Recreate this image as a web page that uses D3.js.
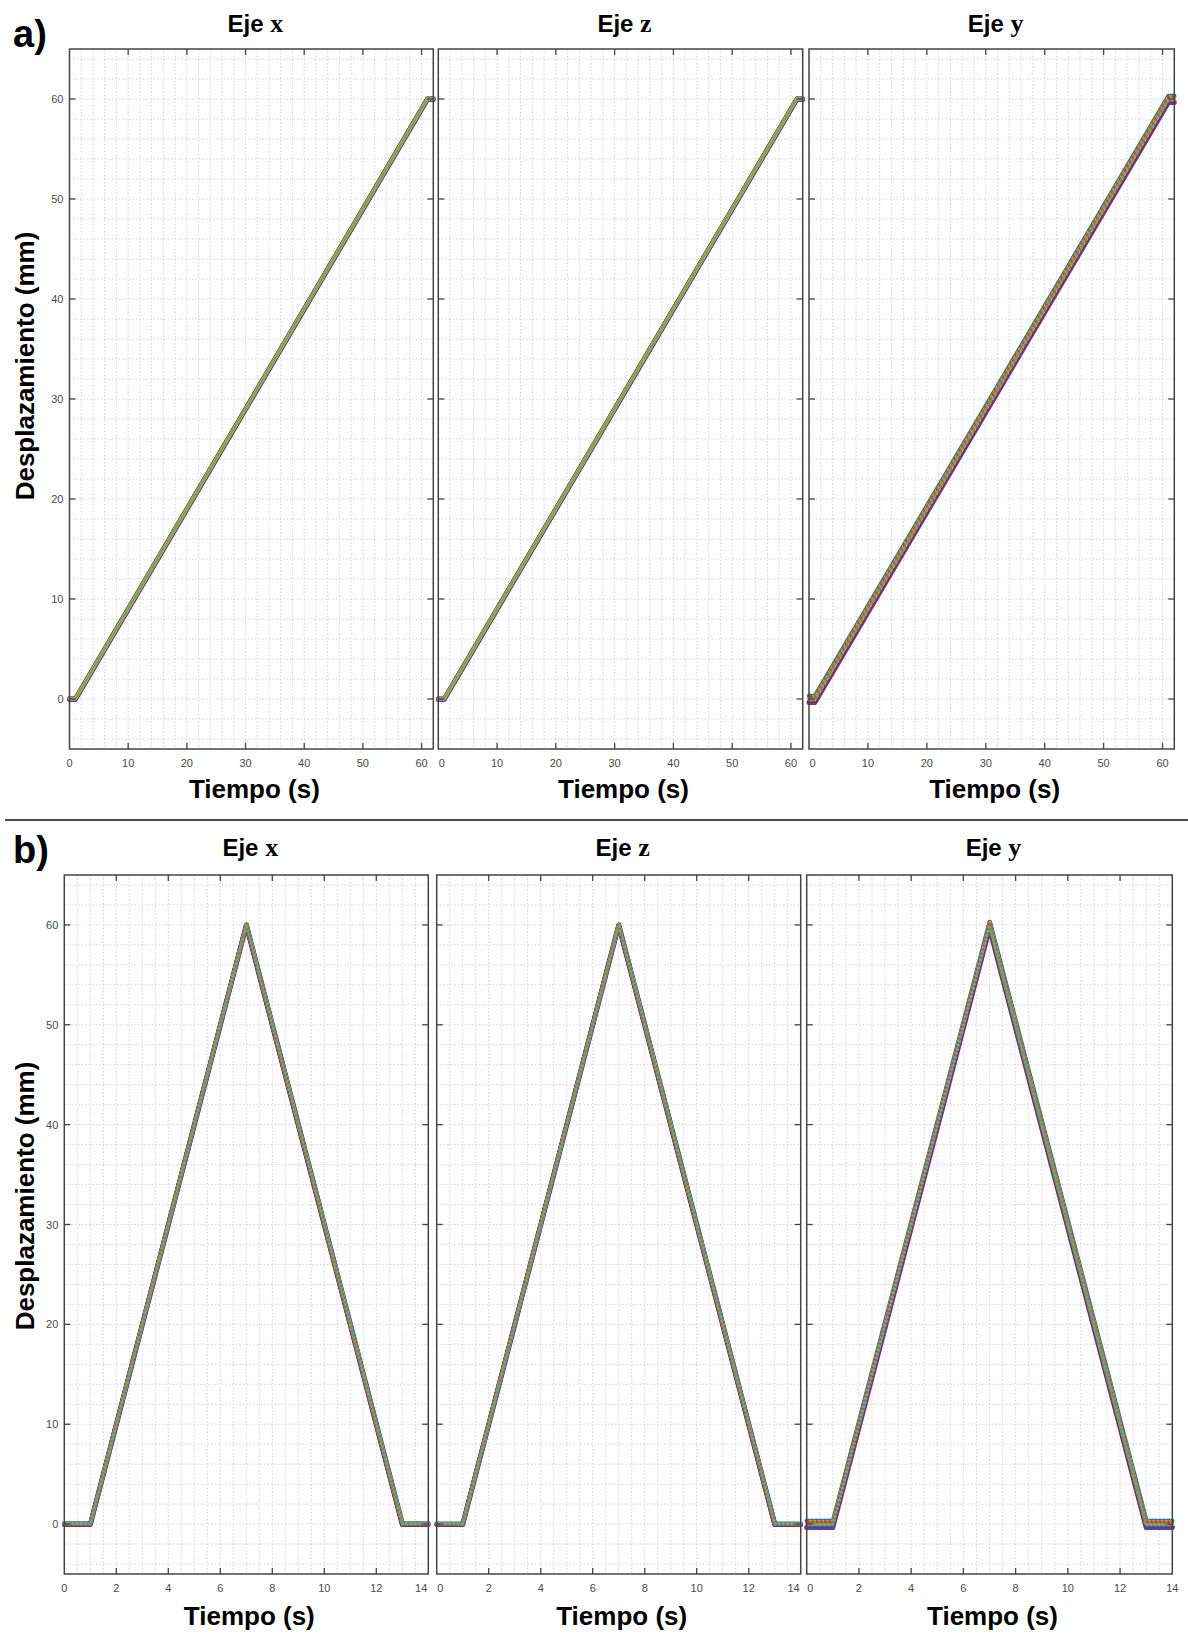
<!DOCTYPE html>
<html>
<head>
<meta charset="utf-8">
<script src="https://cdn.jsdelivr.net/npm/d3@7"></script>
<style>
  body { margin: 0; background: #fff; }
  svg { display: block; }
</style>
</head>
<body>
<svg id="fig" width="1188" height="1636"></svg>
<script>
// ---- Data -------------------------------------------------------------
// Axis order of the panels in each row
const axisNames = ["x", "z", "y"];

// a) slow ramp: displacement (mm) vs time (s)
const rampTime = [0, 1, 61, 62];
const rampDisp = [0, 0, 60, 60];

// b) triangular up-and-back cycle
const triTime = [0, 1, 7, 13, 14];
const triDisp = [0, 0, 60, 0, 0];

// Repeated trials: displacement spread (mm) per trial, per axis
const spreadX = [-0.05, 0.05, -0.03, 0.03, 0.0, -0.01, 0.01];
const spreadZ = [-0.05, 0.04, -0.02, 0.03, 0.0, -0.01, 0.01];
const spreadY = [-0.35, 0.3, -0.2, 0.2, -0.08, 0.1, 0.0];
// Trial time lag (s)
const lagRamp = [0.0, 0.02, -0.02, 0.01, -0.01, 0.0, 0.0];
const lagTri = [0.0, 0.01, -0.01, 0.005, -0.005, 0.0, 0.0];

// Tick values and labels
const dispTicks = [0, 10, 20, 30, 40, 50, 60];
const rampTicks = [0, 10, 20, 30, 40, 50, 60];
const triTicks = [0, 2, 4, 6, 8, 10, 12, 14];

// Trial colours (drawn in this order, widest first)
const trialColors = ["#7E2F8E", "#0072BD", "#A2142F", "#D95319", "#EDB120", "#4DBEEE", "#77AC30"];

// ---- Layout -----------------------------------------------------------
const svg = d3.select("#fig");
const rows = [
  {
    tag: "a)", tagY: 47, titleY: 32, xLabelY: 798, yLabelCy: 366,
    top: 49, bottom: 749,
    cols: [[69.5, 433.3], [438.3, 802.7], [809, 1174.3]],
    xDomain: [0, 62], ticks: rampTicks, minorStep: 2,
    time: rampTime, disp: rampDisp, lag: lagRamp,
    speckle: [0, 0, 1]
  },
  {
    tag: "b)", tagY: 863, titleY: 856, xLabelY: 1625, yLabelCy: 1196,
    top: 875, bottom: 1574,
    cols: [[64.3, 428.3], [436.7, 800.7], [806.7, 1172.3]],
    xDomain: [0, 14], ticks: triTicks, minorStep: 0.5,
    time: triTime, disp: triDisp, lag: lagTri,
    speckle: [2, 2, 2]
  }
];
const spreads = { x: spreadX, z: spreadZ, y: spreadY };

const sans = "'Liberation Sans', Arial, Helvetica, sans-serif";
const serif = "'Liberation Serif', 'Times New Roman', serif";

// Row divider
svg.append("line")
  .attr("x1", 5).attr("x2", 1188).attr("y1", 820).attr("y2", 820)
  .attr("stroke", "#111").attr("stroke-width", 1.6);

rows.forEach(row => {
  // Row tag
  svg.append("text")
    .attr("x", 13).attr("y", row.tagY)
    .attr("font-family", sans).attr("font-weight", "bold").attr("font-size", 38)
    .attr("fill", "#000").text(row.tag);

  // Shared y label
  svg.append("text")
    .attr("transform", `translate(34,${row.yLabelCy}) rotate(-90)`)
    .attr("text-anchor", "middle")
    .attr("font-family", sans).attr("font-weight", "bold").attr("font-size", 26)
    .attr("fill", "#000").text("Desplazamiento (mm)");

  row.cols.forEach(([x0, x1], ci) => {
    const axisName = axisNames[ci];
    const x = d3.scaleLinear().domain(row.xDomain).range([x0, x1]);
    const y = d3.scaleLinear().domain([-5, 65]).range([row.bottom, row.top]);
    const g = svg.append("g");

    // Dotted grid (minor + major)
    const xGrid = d3.range(row.xDomain[0], row.xDomain[1] + 1e-9, row.minorStep)
      .filter(v => v > row.xDomain[0] + 1e-9 && v < row.xDomain[1] - 1e-9);
    const yGrid = d3.range(-4, 65, 2);
    g.append("g").selectAll("line").data(xGrid).join("line")
      .attr("x1", d => x(d)).attr("x2", d => x(d))
      .attr("y1", row.top).attr("y2", row.bottom)
      .attr("stroke", "#d2d2d2").attr("stroke-width", 1).attr("stroke-dasharray", "1.5,2");
    g.append("g").selectAll("line").data(yGrid).join("line")
      .attr("x1", x0).attr("x2", x1)
      .attr("y1", d => y(d)).attr("y2", d => y(d))
      .attr("stroke", "#d2d2d2").attr("stroke-width", 1).attr("stroke-dasharray", "1.5,2");

    // Trials
    const line = d3.line().x(d => x(d[0])).y(d => y(d[1]));
    const spread = spreads[axisName];
    const nPts = row.time.length;
    const trials = trialColors.map((c, k) =>
      row.time.map((t, i) => [t + (i > 0 && i < nPts - 1 ? row.lag[k] : 0), row.disp[i] + spread[k]]));
    const widths = [5, 4.5, 4.1, 3.7, 3.2, 2.6, 1.8];
    trials.forEach((pts, k) => {
      g.append("path").attr("d", line(pts))
        .attr("fill", "none").attr("stroke", trialColors[k])
        .attr("stroke-width", widths[k])
        .attr("stroke-linejoin", "round").attr("stroke-linecap", "round");
    });
    // Marker speckle on top of the lines
    const sp = row.speckle[ci];
    if (sp) {
      trials.forEach((pts, k) => {
        g.append("path").attr("d", line(pts))
          .attr("fill", "none").attr("stroke", trialColors[(k * 3 + 1) % 7])
          .attr("stroke-width", sp === 2 ? 3.4 : 2.8)
          .attr("stroke-dasharray", sp === 2 ? "0,4.2" : "0,5")
          .attr("stroke-dashoffset", k * 0.6)
          .attr("stroke-linecap", "round")
          .attr("opacity", sp === 2 ? 0.8 : 0.7);
      });
      g.append("path").attr("d", line(trials[6]))
        .attr("fill", "none").attr("stroke", "#77AC30")
        .attr("stroke-width", 1.3).attr("opacity", 0.8)
        .attr("stroke-linejoin", "round");
    }

    // Frame
    g.append("rect")
      .attr("x", x0).attr("y", row.top).attr("width", x1 - x0).attr("height", row.bottom - row.top)
      .attr("fill", "none").attr("stroke", "#444").attr("stroke-width", 1.5);

    // Inward ticks on all four sides
    const tl = 6;
    const tg = g.append("g").attr("stroke", "#444").attr("stroke-width", 1.3);
    row.ticks.forEach(v => {
      if (v <= row.xDomain[0] || v >= row.xDomain[1]) return;
      tg.append("line").attr("x1", x(v)).attr("x2", x(v)).attr("y1", row.bottom).attr("y2", row.bottom - tl);
      tg.append("line").attr("x1", x(v)).attr("x2", x(v)).attr("y1", row.top).attr("y2", row.top + tl);
    });
    dispTicks.forEach(v => {
      tg.append("line").attr("x1", x0).attr("x2", x0 + tl).attr("y1", y(v)).attr("y2", y(v));
      tg.append("line").attr("x1", x1).attr("x2", x1 - tl).attr("y1", y(v)).attr("y2", y(v));
    });

    // X tick labels (edge labels kept clear of neighbouring panels)
    const lastI = row.ticks.length - 1;
    const atRightEdge = (d, i) => i === lastI && ci < 2 && Math.abs(x(d) - x1) < 2;
    g.append("g").selectAll("text").data(row.ticks).join("text")
      .attr("x", (d, i) => {
        if (i === 0 && ci > 0) return x(d) + 0.5;
        if (atRightEdge(d, i)) return x(d) - 1;
        return x(d);
      })
      .attr("y", row.bottom + 18)
      .attr("text-anchor", (d, i) => {
        if (i === 0 && ci > 0) return "start";
        if (atRightEdge(d, i)) return "end";
        return "middle";
      })
      .attr("font-family", sans).attr("font-size", 11).attr("fill", "#4a4a4a")
      .text(d => d);

    // Y tick labels on the first panel only
    if (ci === 0) {
      g.append("g").selectAll("text").data(dispTicks).join("text")
        .attr("x", x0 - 6).attr("y", d => y(d) + 4)
        .attr("text-anchor", "end")
        .attr("font-family", sans).attr("font-size", 11).attr("fill", "#4a4a4a")
        .text(d => d);
    }

    // Panel title
    const title = svg.append("text")
      .attr("x", (x0 + x1) / 2 + 4).attr("y", row.titleY)
      .attr("text-anchor", "middle")
      .attr("font-family", sans).attr("font-weight", "bold").attr("font-size", 24)
      .attr("fill", "#000");
    title.append("tspan").text("Eje ");
    title.append("tspan").attr("font-family", serif).attr("font-size", 26).text(axisName);

    // X axis label
    svg.append("text")
      .attr("x", (x0 + x1) / 2 + 3).attr("y", row.xLabelY)
      .attr("text-anchor", "middle")
      .attr("font-family", sans).attr("font-weight", "bold").attr("font-size", 26)
      .attr("fill", "#000").text("Tiempo (s)");
  });
});
</script>
</body>
</html>
